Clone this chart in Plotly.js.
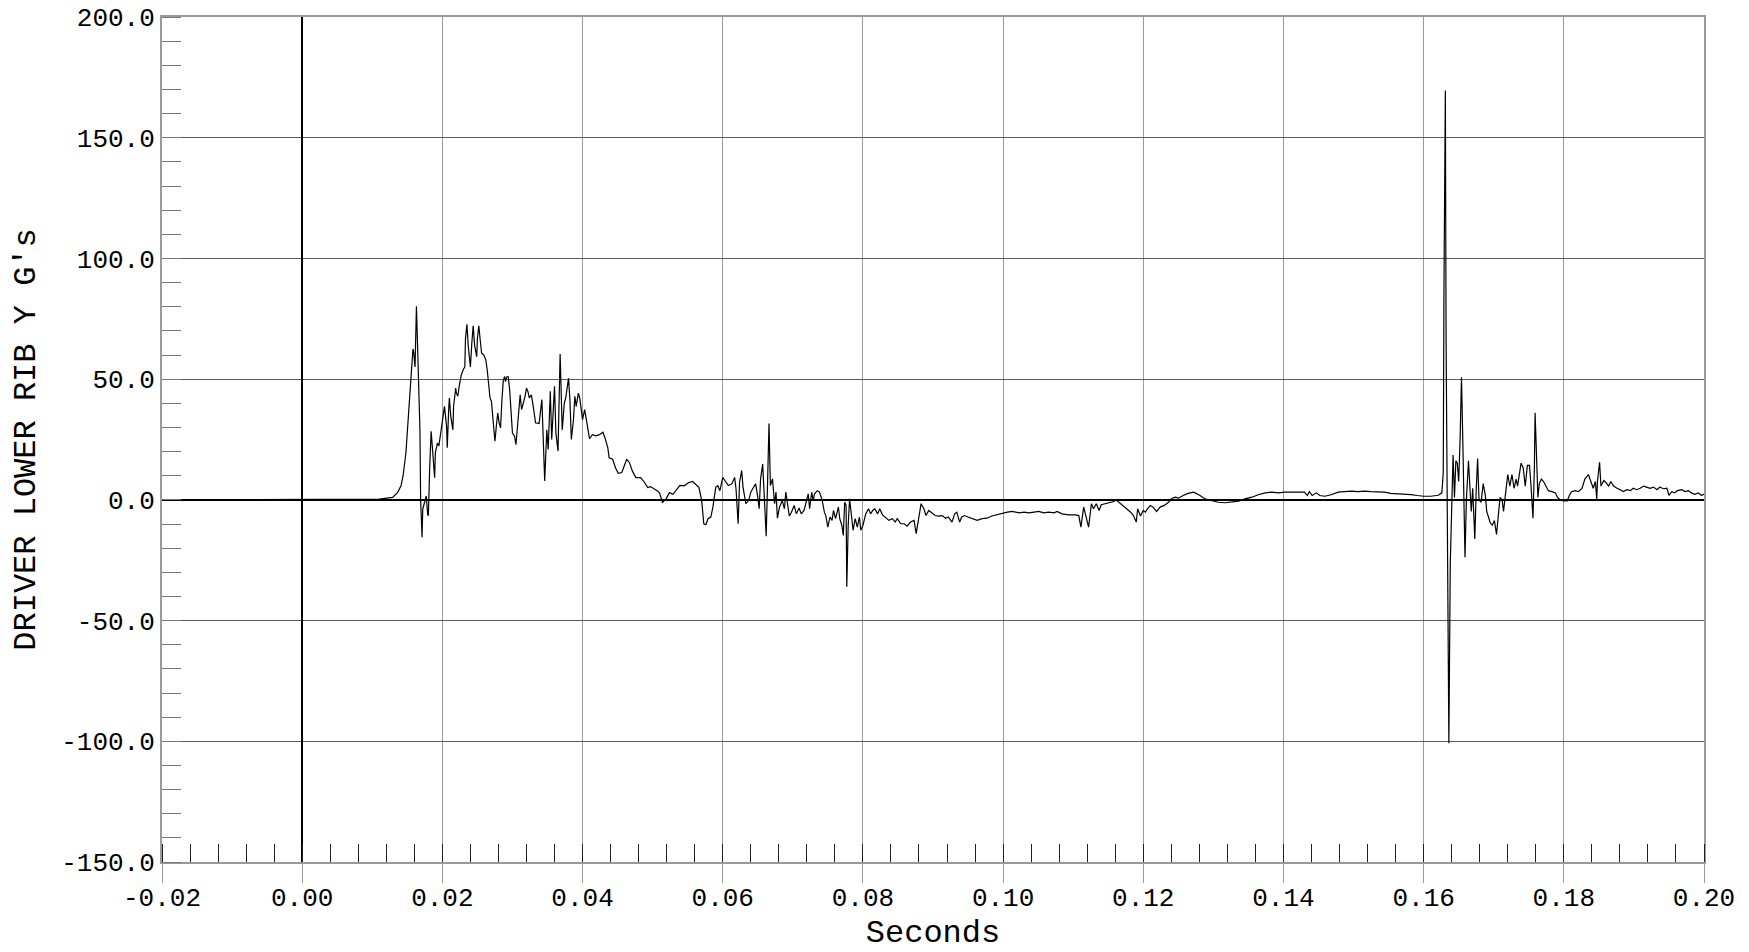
<!DOCTYPE html>
<html>
<head>
<meta charset="utf-8">
<script src="https://cdn.plot.ly/plotly-3.0.1.min.js"></script>
<style>
  html, body { margin: 0; padding: 0; background: #fff; }
  #chart { width: 1749px; height: 952px; }
</style>
</head>
<body>
<div id="chart"></div>
<script>
// Time in seconds
const timeSec = [
  -0.020, -0.010, 0.000, 0.005, 0.008, 0.0110, 0.0129, 0.0136, 0.0141, 0.0144,
  0.0148, 0.0151, 0.0154, 0.0156, 0.0158, 0.0159, 0.0161, 0.0163, 0.0166, 0.0168,
  0.0169, 0.0171, 0.0172, 0.0175, 0.0177, 0.0179, 0.0180, 0.0182, 0.0184, 0.0187,
  0.0189, 0.0190, 0.0193, 0.0195, 0.0197, 0.0199, 0.0201, 0.0203, 0.0206, 0.0207,
  0.0209, 0.0210, 0.0212, 0.0215, 0.0216, 0.0219, 0.0220, 0.0222, 0.0224, 0.0227,
  0.0230, 0.0232, 0.0233, 0.0235, 0.0237, 0.0240, 0.0242, 0.0244, 0.0246, 0.0249,
  0.0250, 0.0252, 0.0254, 0.0256, 0.0259, 0.0262, 0.0264, 0.0266, 0.0268, 0.0270,
  0.0272, 0.0274, 0.0275, 0.0277, 0.0279, 0.0281, 0.0283, 0.0285, 0.0287, 0.0289,
  0.0290, 0.0292, 0.0294, 0.0296, 0.0298, 0.0300, 0.0303, 0.0305, 0.0308, 0.0310,
  0.0311, 0.0313, 0.0315, 0.0318, 0.0320, 0.0322, 0.0324, 0.0327, 0.0329, 0.0331,
  0.0333, 0.0338, 0.0342, 0.0346, 0.0349, 0.0351, 0.0354, 0.0356, 0.0357, 0.0360,
  0.0362, 0.0365, 0.0368, 0.0371, 0.0374, 0.0376, 0.0380, 0.0382, 0.0384, 0.0387,
  0.0389, 0.0391, 0.0394, 0.0396, 0.0400, 0.0403, 0.0407, 0.0410, 0.0414, 0.0419,
  0.0424, 0.0429, 0.0432, 0.0436, 0.0438, 0.0443, 0.0447, 0.0451, 0.0456, 0.0459,
  0.0463, 0.0467, 0.0471, 0.0476, 0.0483, 0.0488, 0.0493, 0.0497, 0.0502, 0.0507,
  0.0510, 0.0514, 0.0519, 0.0524, 0.0529, 0.0533, 0.0539, 0.0545, 0.0551, 0.0557,
  0.0561, 0.0566, 0.0570, 0.0573, 0.0576, 0.0579, 0.0583, 0.0586, 0.0590, 0.0593,
  0.0596, 0.0600, 0.0603, 0.0608, 0.0613, 0.0617, 0.0619, 0.0622, 0.0624, 0.0627,
  0.0629, 0.0633, 0.0637, 0.0640, 0.0644, 0.0647, 0.0650, 0.0652, 0.0654, 0.0657,
  0.0659, 0.0662, 0.0664, 0.0666, 0.0668, 0.0671, 0.0674, 0.0676, 0.0678, 0.0681,
  0.0685, 0.0688, 0.0690, 0.0692, 0.0695, 0.0698, 0.0702, 0.0705, 0.0709, 0.0712,
  0.0716, 0.0719, 0.0722, 0.0724, 0.0727, 0.0729, 0.0731, 0.0735, 0.0738, 0.0742,
  0.0745, 0.0747, 0.0750, 0.0753, 0.0756, 0.0758, 0.0761, 0.0765, 0.0767, 0.0770,
  0.0772, 0.0774, 0.0776, 0.0777, 0.0779, 0.0781, 0.0783, 0.0786, 0.0789, 0.0792,
  0.0795, 0.0797, 0.0800, 0.0804, 0.0808, 0.0811, 0.0814, 0.0817, 0.0821, 0.0824,
  0.0828, 0.0833, 0.0837, 0.0842, 0.0846, 0.0849, 0.0854, 0.0859, 0.0863, 0.0868,
  0.0873, 0.0876, 0.0880, 0.0883, 0.0887, 0.0890, 0.0894, 0.0899, 0.0903, 0.0908,
  0.0913, 0.0918, 0.0922, 0.0927, 0.0931, 0.0934, 0.0938, 0.0941, 0.0945, 0.0950,
  0.0956, 0.0963, 0.0970, 0.0977, 0.0984, 0.0991, 0.0999, 0.1006, 0.1013, 0.1023,
  0.1030, 0.1037, 0.1044, 0.1051, 0.1058, 0.1065, 0.1073, 0.1077, 0.1084, 0.1094,
  0.1103, 0.1108, 0.1111, 0.1115, 0.1118, 0.1122, 0.1126, 0.1129, 0.1133, 0.1137,
  0.1140, 0.1145, 0.1151, 0.1158, 0.1161, 0.1165, 0.1171, 0.1177, 0.1182, 0.1186,
  0.1190, 0.1192, 0.1196, 0.1200, 0.1203, 0.1206, 0.1210, 0.1214, 0.1219, 0.1224,
  0.1230, 0.1236, 0.1241, 0.1246, 0.1250, 0.1257, 0.1264, 0.1272, 0.1276, 0.1281,
  0.1288, 0.1298, 0.1307, 0.1317, 0.1326, 0.1336, 0.1345, 0.1355, 0.1364, 0.1374,
  0.1383, 0.1393, 0.1402, 0.1411, 0.1421, 0.1430, 0.1434, 0.1437, 0.1441, 0.1447,
  0.1452, 0.1459, 0.1468, 0.1478, 0.1487, 0.1497, 0.1506, 0.1516, 0.1525, 0.1534,
  0.1544, 0.1553, 0.1563, 0.1572, 0.1582, 0.1591, 0.1600, 0.1610, 0.1621, 0.1626,
  0.1628, 0.1629, 0.1631, 0.1632, 0.1634, 0.1636, 0.1638, 0.1640, 0.1642, 0.1644,
  0.1646, 0.1648, 0.1650, 0.1652, 0.1654, 0.1656, 0.1659, 0.1661, 0.1664, 0.1667,
  0.1668, 0.1670, 0.1673, 0.1675, 0.1677, 0.1679, 0.1682, 0.1685, 0.1688, 0.1690,
  0.1693, 0.1695, 0.1698, 0.1701, 0.1704, 0.1706, 0.1709, 0.1712, 0.1714, 0.1717,
  0.1720, 0.1723, 0.1726, 0.1729, 0.1732, 0.1734, 0.1737, 0.1739, 0.1742, 0.1745,
  0.1748, 0.1751, 0.1753, 0.1756, 0.1758, 0.1759, 0.1761, 0.1763, 0.1765, 0.1768,
  0.1771, 0.1774, 0.1778, 0.1783, 0.1788, 0.1791, 0.1795, 0.1800, 0.1805, 0.1808,
  0.1811, 0.1816, 0.1821, 0.1826, 0.1830, 0.1835, 0.1839, 0.1842, 0.1845, 0.1847,
  0.1848, 0.1851, 0.1853, 0.1857, 0.1860, 0.1864, 0.1867, 0.1871, 0.1876, 0.1880,
  0.1885, 0.1890, 0.1895, 0.1899, 0.1904, 0.1909, 0.1914, 0.1918, 0.1923, 0.1928,
  0.1933, 0.1937, 0.1942, 0.1947, 0.1950, 0.1954, 0.1958, 0.1962, 0.1968, 0.1973,
  0.1978, 0.1982, 0.1987, 0.1992, 0.1996, 0.2000
];

// Driver lower rib Y acceleration, G's
const ribYG = [
  0, 0, 0, 0.1, 0.2, 0.3, 1, 3, 5.8, 10,
  19.5, 33, 45.6, 56.6, 62.5, 61.4, 55, 80.2, 50, 29,
  0, -15.5, -3.8, 0, 1.6, -5.9, -6.6, 14, 28.4, 16.8,
  9.2, 19.5, 23.6, 22.3, 26.4, 30.5, 33, 38.7, 30.5, 21.6,
  37.4, 42.2, 34.6, 29, 38.7, 46.3, 44.2, 42.9, 47, 51.8,
  54.1, 55, 66.9, 72.7, 63.5, 55, 64.8, 72.1, 64.1, 59.3,
  66.9, 72.1, 66.2, 60.7, 60, 58, 53.8, 47, 42.2, 40.8,
  33.2, 25, 24.3, 30.5, 36, 31.9, 29.8, 41.5, 49.7, 51.1,
  49, 51, 51, 45.6, 36, 27.7, 26.4, 22.9, 33.2, 41.5,
  43.5, 37.4, 39.4, 42.9, 46.3, 45, 42.2, 43.5, 40, 34.6,
  31.9, 31.6, 41.5, 7.8, 29, 20.9, 45, 25, 30.5, 47,
  27.7, 20.2, 60.4, 29, 40, 42.2, 50.4, 41.5, 25, 33,
  42.9, 38.7, 44.2, 42.2, 33.2, 37.4, 30.5, 25.3, 27, 26.5,
  27, 28, 25.7, 21.6, 17.4, 16.8, 13.3, 11, 11.3, 14,
  16.8, 15.4, 12, 9.2, 9.2, 7.4, 5.1, 5.5, 4.7, 3.7,
  2.7, -1.1, 0.3, 3, 2.3, 3.7, 6, 5.8, 7.1, 7.6,
  6.6, 5.2, -0.3, -9.9, -10.3, -7.8, -7.1, -3, 5.2, 5.9,
  3.8, 9.3, 8, 5.9, 6.6, 9.3, 4.5, -9.9, 7.3, 12.1,
  5.2, -1.6, -0.3, 3.2, 5.2, 6.6, 1.1, -3.7, 8.7, 14.8,
  3.2, -15.1, 7.3, 31.6, 5.9, 8.7, -1.6, 3.2, -7.6, -3,
  -0.3, -3.7, 3.2, -1, -6.7, -5.1, -2.3, -5.8, -3.4, -5.8,
  -4.4, -1, 2.5, -3.7, 3.2, -0.3, 2.5, 3.8, 3.2, -0.3,
  -5.1, -6.5, -11.3, -7.1, -8.5, -4.4, -7.8, -3, -7.8, -10.6,
  -14.7, -1, -2.3, -36, -10.6, 0.4, -5.8, -12.6, -7.8, -11.3,
  -7.1, -12.6, -10.6, -5.8, -3.7, -5.8, -4.4, -3.7, -5.8, -3.7,
  -6.2, -7.6, -8.5, -7.8, -9.2, -7.8, -9.9, -9.9, -10.9, -9.2,
  -8.5, -14, -6.5, -1.6, -3.7, -6.5, -4.4, -5.8, -6.5, -6.7,
  -6.5, -7.6, -7.1, -9.2, -5.8, -5.1, -9.2, -7.1, -6.5, -7.1,
  -7.8, -8.5, -7.8, -7.6, -6.7, -6.2, -5.4, -5.1, -4.8, -5.4,
  -5.1, -5.4, -5.1, -4.8, -5.4, -5.1, -5.4, -4.8, -5.8, -6.2,
  -6.2, -6.5, -11.3, -3, -6.5, -11.3, -1.6, -3.7, -1.6, -4.4,
  -2, -1.6, -1.2, -0.7, 0, -1, -2.3, -4, -5.1, -6.5,
  -9.2, -3.7, -6.7, -4.4, -5.1, -3.7, -2.3, -3, -4.8, -3,
  -2.3, -1, 0.7, 1.1, 0.7, 1.8, 2.7, 3.2, 2.7, 1.8,
  0.4, -0.5, -1, -1.2, -1, -0.5, 0.4, 1.1, 2.1, 2.9,
  3.2, 2.9, 3.2, 3.2, 2.9, 3.2, 1.8, 3.4, 1.8, 2.9,
  1.8, 1.5, 2.1, 3.2, 3.4, 3.6, 3.4, 3.6, 3.4, 3.4,
  3.2, 2.7, 2.5, 2.5, 2.2, 1.8, 1.5, 1.5, 1.9, 2.9,
  11.4, 87, 169.6, 68, -26.6, -100.8, -26.6, 0, 18.6, 1,
  16.2, 15.2, 7.6, 24.7, 50.8, 22.8, -23.8, 0, 16.2, 0,
  -4.8, 4.8, -16.2, 3.8, 17.1, 0, -1, 6.7, 1.9, -4.8,
  -7.6, -9.5, -10.5, -8.6, -14.3, -8.6, 1, 0, -4.8, 2.9,
  10.5, 5.7, 10.5, 4.8, 8.6, 5.7, 10.5, 15.2, 13.3, 5.7,
  14.3, 14.3, 6.7, -7.6, 13.3, 36.1, 19, 1, 6.7, 8.6,
  7.6, 5.7, 3.8, 3.4, 2.9, 1, 0, -0.4, -0.4, 1.9,
  3.4, 3.8, 3.4, 4.8, 8.6, 10.5, 6.7, 4.8, 7.6, 0.4,
  7.6, 15.6, 5.7, 8, 7.2, 5.7, 7.6, 5.7, 4.8, 4.2,
  3.4, 4.2, 3.8, 4.8, 4.2, 4.8, 5.7, 5.3, 4.8, 5.3,
  4.2, 5.3, 4.6, 4.8, 1.9, 3.4, 2.9, 3.8, 4.2, 3.4,
  3.8, 2.9, 2.3, 2.9, 1.9, 2.3
];

const xTickVals = [-0.02, 0.00, 0.02, 0.04, 0.06, 0.08, 0.10, 0.12, 0.14, 0.16, 0.18, 0.20];
const xTickText = ["-0.02", "0.00", "0.02", "0.04", "0.06", "0.08", "0.10", "0.12", "0.14", "0.16", "0.18", "0.20"];
const yTickVals = [-150, -100, -50, 0, 50, 100, 150, 200];
const yTickText = ["-150.0", "-100.0", "-50.0", "0.0", "50.0", "100.0", "150.0", "200.0"];

const xTitle = "Seconds";
const yTitle = "DRIVER LOWER RIB Y G's";

const FONT = "'Liberation Mono', 'DejaVu Sans Mono', monospace";

const trace = {
  x: timeSec,
  y: ribYG,
  type: 'scatter',
  mode: 'lines',
  line: { color: '#000000', width: 1.2 },
  hoverinfo: 'skip'
};

const layout = {
  width: 1749,
  height: 952,
  margin: { l: 162, r: 45, t: 17, b: 90 },
  paper_bgcolor: '#ffffff',
  plot_bgcolor: '#ffffff',
  showlegend: false,
  font: { family: FONT, color: '#000' },
  xaxis: {
    range: [-0.02, 0.20],
    tickmode: 'array',
    tickvals: xTickVals,
    ticktext: xTickText,
    ticks: 'outside',
    ticklen: 19,
    tickcolor: '#999',
    tickwidth: 1,
    ticklabelstandoff: -8,
    showgrid: true,
    gridcolor: '#9a9a9a',
    gridwidth: 1,
    zeroline: true,
    zerolinecolor: '#000',
    zerolinewidth: 1.5,
    showline: true,
    linecolor: '#9a9a9a',
    linewidth: 2,
    mirror: true,
    tickfont: { family: FONT, size: 26, color: '#000' },
    minor: {
      tickmode: 'linear',
      tick0: 0,
      dtick: 0.004,
      ticks: 'inside',
      ticklen: 18,
      tickcolor: '#222',
      tickwidth: 1,
      showgrid: false
    },
    title: { text: xTitle, font: { family: FONT, size: 32, color: '#000' }, standoff: 23 },
    automargin: false
  },
  yaxis: {
    range: [-150, 200],
    tickmode: 'array',
    tickvals: yTickVals,
    ticktext: yTickText,
    ticks: '',
    showgrid: true,
    gridcolor: '#5a5a5a',
    gridwidth: 1,
    zeroline: true,
    zerolinecolor: '#000',
    zerolinewidth: 1.5,
    showline: true,
    linecolor: '#9a9a9a',
    linewidth: 2,
    mirror: true,
    tickfont: { family: FONT, size: 26, color: '#000' },
    minor: {
      tickmode: 'linear',
      tick0: 0,
      dtick: 10,
      ticks: 'inside',
      ticklen: 19,
      tickcolor: '#777',
      tickwidth: 1,
      showgrid: false
    },
    title: { text: yTitle, font: { family: FONT, size: 32, color: '#000' }, standoff: 16 },
    automargin: false
  }
};

Plotly.newPlot('chart', [trace], layout, { displayModeBar: false, staticPlot: true });
</script>
</body>
</html>
